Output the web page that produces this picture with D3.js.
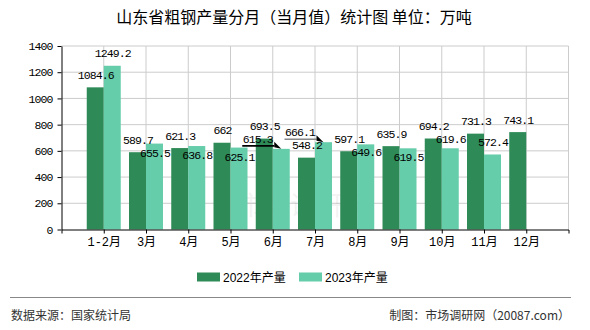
<!DOCTYPE html>
<html><head><meta charset="utf-8">
<script src="https://cdn.jsdelivr.net/npm/d3@7"></script>
<style>body{margin:0;background:#fff} svg{display:block}</style>
</head><body>
<svg id="c" width="590" height="330"></svg>
<script>
const categories = ["1-2月","3月","4月","5月","6月","7月","8月","9月","10月","11月","12月"];
const seriesNames = ["2022年产量","2023年产量"];
const values2022 = [1084.6,589.7,621.3,662,693.5,548.2,597.1,635.9,694.2,731.3,743.1];
const values2023 = [1249.2,655.5,636.8,625.1,615.3,666.1,649.6,619.5,619.6,572.4,null];
const yTicks = [0,200,400,600,800,1000,1200,1400];
const titleText = "山东省粗钢产量分月（当月值）统计图 单位：万吨";
const sourceText = "数据来源：国家统计局";
const creditText = "制图：市场调研网（20087.com）";
const watermarkText = "市场调研网";

const colors = ["#2e8b57","#66cdaa"];
const series = [values2022, values2023];
const monoFont = "'Liberation Mono','Noto Sans CJK SC',monospace";
const cjkFont = "'Noto Sans CJK SC','Liberation Sans',sans-serif";

const svg = d3.select("#c");
svg.append("rect").attr("width",590).attr("height",330).attr("fill","#fff");

const x = d3.scalePoint().domain(categories).range([61.5,568.5]).padding(1);
const y = d3.scaleLinear().domain([0,1400]).range([229.5,46]);
const bw = 17;

// title
svg.append("text").attr("x",294).attr("y",22.5).attr("text-anchor","middle")
  .attr("font-family",cjkFont).attr("font-size",16).attr("fill","#000").text(titleText);

// grid
const g = svg.append("g");
g.selectAll("line.h").data(yTicks.filter(d=>d>0)).join("line")
  .attr("x1",61.5).attr("x2",568.5).attr("y1",d=>y(d)).attr("y2",d=>y(d))
  .attr("stroke","#cccccc").attr("stroke-width",1);
g.selectAll("line.v").data(categories.map(c=>x(c)).concat([568.5])).join("line")
  .attr("x1",d=>d).attr("x2",d=>d).attr("y1",y(1400)).attr("y2",y(0))
  .attr("stroke","#cccccc").attr("stroke-width",1);

// watermark
svg.append("text").attr("x",303).attr("y",215).attr("text-anchor","middle")
  .attr("font-family",cjkFont).attr("font-size",26).attr("fill","#000").attr("opacity",0.045)
  .text(watermarkText);

// bars
series.forEach((vals,s)=>{
  svg.append("g").selectAll("rect").data(categories.map((c,i)=>({c,v:vals[i]})).filter(d=>d.v!=null))
    .join("rect")
    .attr("x",d=>x(d.c)-bw+s*bw).attr("y",d=>y(d.v))
    .attr("width",bw).attr("height",d=>y(0)-y(d.v))
    .attr("fill",colors[s]);
});

// axes
const ya = svg.append("g").attr("transform","translate(61.5,0)")
  .call(d3.axisLeft(y).tickValues(yTicks).tickSize(4).tickSizeOuter(0).tickPadding(5).tickFormat(d3.format("d")));
const xa = svg.append("g").attr("transform","translate(0,229.5)")
  .call(d3.axisBottom(x).tickSize(4).tickSizeOuter(4).tickPadding(4));
[ya,xa].forEach(a=>{
  a.selectAll("path,line").attr("stroke","#000").attr("stroke-width",1);
  a.selectAll("text").attr("fill","#000").attr("font-size",11.5).attr("letter-spacing","-0.9px")
    .attr("font-family",monoFont);
});
xa.selectAll("text").attr("font-size",12).attr("letter-spacing",null);

// labels with simple collision avoidance
const H = 9, pad = 1, cw = 6;
const placed = [];
function box(cx,cy,w){return {x0:cx-w/2-pad,x1:cx+w/2+pad,y0:cy-H/2-pad,y1:cy+H/2+pad};}
function hit(a,b){return a.x0<b.x1 && b.x0<a.x1 && a.y0<b.y1 && b.y0<a.y1;}
const labels = [];
categories.forEach((c,i)=>{
  const v = values2022[i]; if(v==null) return;
  const cx = x(c)-bw/2, top = y(v), txt = String(v), w = txt.length*cw;
  const L = {txt,cx,cy:top-12.5,w,cat:i,top};
  L.b = box(L.cx,L.cy,w); placed.push(L); labels.push(L);
});
const darkByCat = {}; labels.forEach(L=>darkByCat[L.cat]=L);
const leaders = [];
categories.forEach((c,i)=>{
  const v = values2023[i]; if(v==null) return;
  const bx = x(c)+bw/2, top = y(v), txt = String(v), w = txt.length*cw;
  const own = darkByCat[i];
  let cy = top-12.5, cx = bx;
  const b = box(cx,cy,w);
  const hits = placed.filter(p=>hit(p.b,b));
  let leader = false;
  if(hits.length){
    if(own && hits.includes(own)){
      let y2 = own.cy+13;
      if(y2-H/2-1 < top && top < y2+H/2+2) y2 = top+9;
      const b2 = box(cx,y2,w);
      if(placed.some(p=>hit(p.b,b2))) leader = true; else cy = y2;
    } else leader = true;
  }
  if(leader){ cx = bx-24; cy = top-10; leaders.push({x0:cx-w/2,bx,top}); }
  const L = {txt,cx,cy,w,cat:i,top}; L.b = box(cx,cy,w);
  placed.push(L); labels.push(L);
});
const leaderColors = ["#000","#888"];
leaders.forEach((d,k)=>{
  const ly = d.top-3;
  svg.append("line").attr("x1",d.x0).attr("x2",d.bx-7).attr("y1",ly).attr("y2",ly)
    .attr("stroke",leaderColors[k%2]).attr("stroke-width",1.6);
  svg.append("path").attr("d",`M${d.bx-7},${ly-4}L${d.bx-7},${ly+1.5}L${d.bx},${d.top}Z`).attr("fill","#000");
});
svg.append("g").selectAll("text").data(labels).join("text")
  .attr("x",d=>d.cx+0.45).attr("y",d=>d.cy).attr("dy","0.36em").attr("text-anchor","middle")
  .attr("font-family",monoFont).attr("font-size",11.5).attr("letter-spacing","-0.9px")
  .attr("fill","#000").text(d=>d.txt);

// legend
const lg = svg.append("g");
const legendX = [197,299];
seriesNames.forEach((n,s)=>{
  lg.append("rect").attr("x",legendX[s]).attr("y",272.5).attr("width",23).attr("height",9).attr("fill",colors[s]);
  lg.append("text").attr("x",legendX[s]+26).attr("y",281.5).attr("font-family","'Liberation Sans','Noto Sans CJK SC',sans-serif")
    .attr("font-size",12).attr("fill","#000").text(n);
});

// footer
svg.append("line").attr("x1",10).attr("x2",571).attr("y1",297.5).attr("y2",297.5).attr("stroke","#888").attr("stroke-width",1.2);
svg.append("text").attr("x",11).attr("y",319.5).attr("font-family",cjkFont).attr("font-size",12).attr("fill","#333").text(sourceText);
svg.append("text").attr("x",570).attr("y",319.5).attr("text-anchor","end").attr("font-family",cjkFont).attr("font-size",12).attr("fill","#333").text(creditText);
</script>
</body></html>
